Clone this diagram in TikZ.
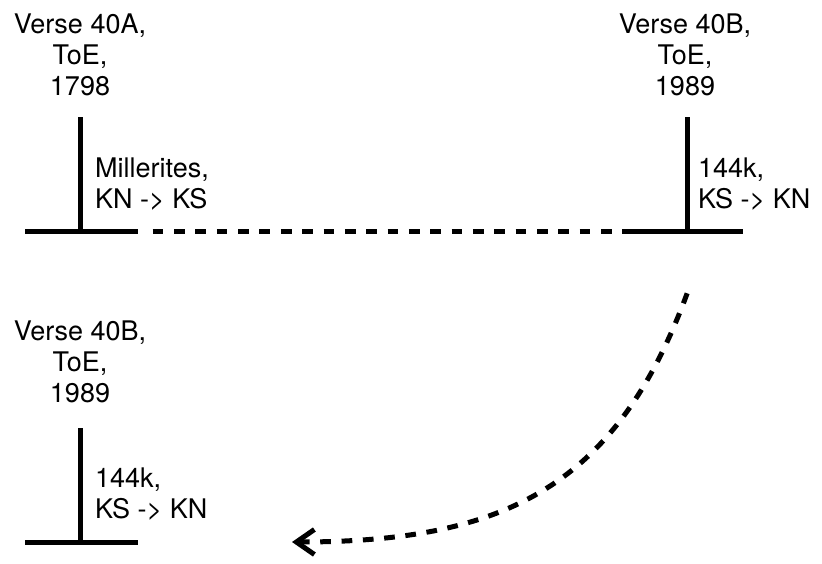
\documentclass[tikz,border=0pt]{standalone}
\usepackage{fontspec}
\setmainfont{TeX Gyre Heros}
\usetikzlibrary{arrows.meta}
\begin{document}
\begin{tikzpicture}[x=1pt,y=-1pt,
  bar/.style={line width=5pt,line cap=butt},
  dashline/.style={line width=5pt,dash pattern=on 10.7pt off 10.65pt},
  head/.style={font=\fontsize{27}{31}\selectfont,align=center,anchor=base,inner sep=0pt},
  side/.style={font=\fontsize{27}{30.5}\selectfont,align=left,anchor=base west,inner sep=0pt}]
\useasboundingbox (0,0) rectangle (822,563);

% first milestone: 1798
\coordinate (aT) at (80,117);
\coordinate (aB) at (80,231);
\coordinate (aL) at (25,231);
\coordinate (aR) at (138,231);
\draw[bar] (aT) -- (aB);
\draw[bar] (aL) -- (aR);
\node[head] (aHead) at (80,95) {Verse 40A,\\ToE,\\1798};
\node[side] (aSide) at (95,208) {Millerites,\\KN -> KS};

% second milestone: 1989
\coordinate (bT) at (687,117);
\coordinate (bB) at (687,231);
\coordinate (bL) at (622,231);
\coordinate (bR) at (743,231);
\draw[bar] (bT) -- (bB);
\draw[bar] (bL) -- (bR);
\node[head] (bHead) at (685,95) {Verse 40B,\\ToE,\\1989};
\node[side] (bSide) at (698,208) {144k,\\KS -> KN};

% dashed span between the two
\coordinate (dS) at (152.7,231);
\coordinate (dE) at (611.5,231);
\draw[dashline] (dS) -- (dE);

% repeated milestone below
\coordinate (cT) at (80,428);
\coordinate (cB) at (80,542);
\coordinate (cL) at (25,542);
\coordinate (cR) at (138,542);
\draw[bar] (cT) -- (cB);
\draw[bar] (cL) -- (cR);
\node[head] (cHead) at (80,402) {Verse 40B,\\ToE,\\1989};
\node[side] (cSide) at (95,518) {144k,\\KS -> KN};

% curved dashed arrow carrying the milestone down
\coordinate (arrTip) at (292,542);
\coordinate (arrStart) at (688,291);
\draw[dashline,{Straight Barb[length=18pt,width=25pt,line width=5pt]}-]
  (arrTip) to[out=0,in=-110,looseness=1.15] (arrStart);
\end{tikzpicture}
\end{document}
